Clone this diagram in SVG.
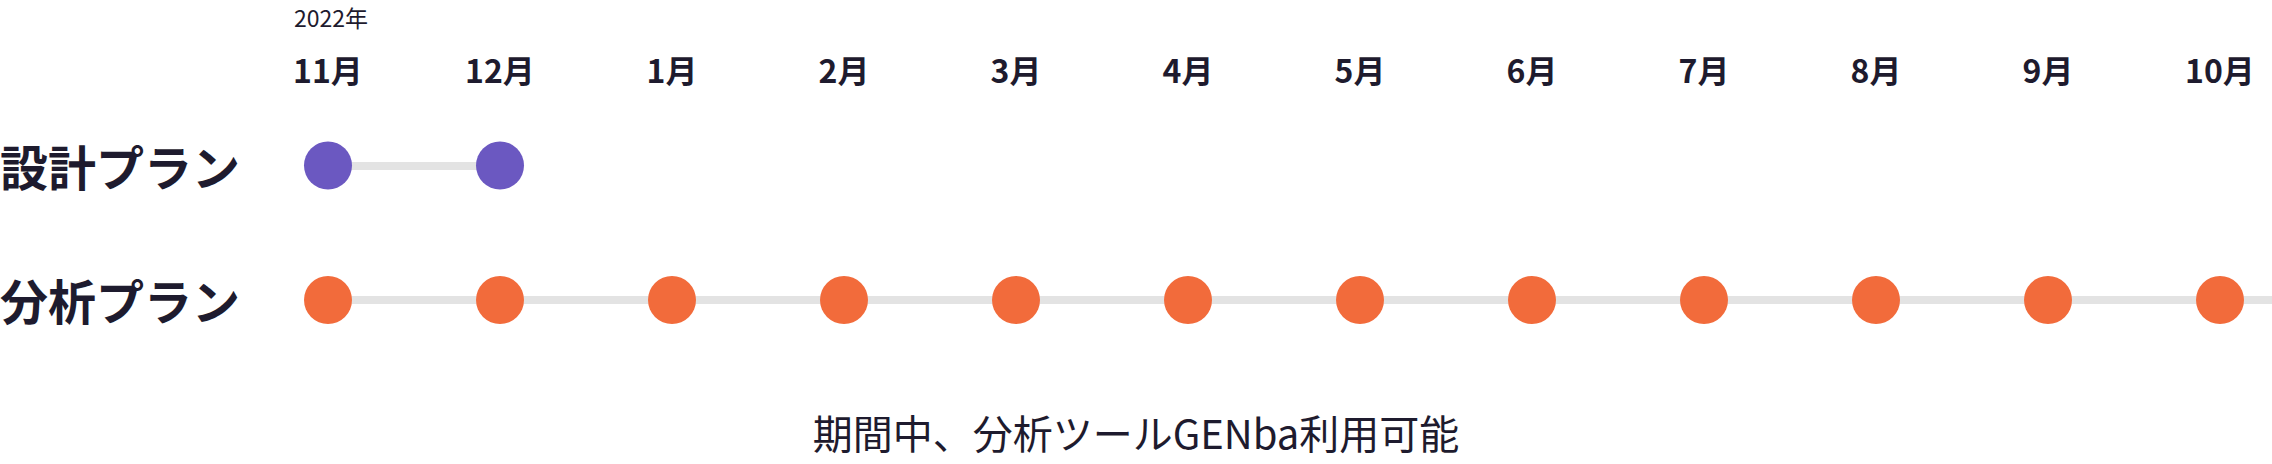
<svg xmlns="http://www.w3.org/2000/svg" width="2272" height="464" viewBox="0 0 2272 464">
<style>
text{font-family:"Noto Sans CJK JP","Noto Sans",sans-serif;fill:#1e1b2e}
.m{font-size:32px;font-weight:700;text-anchor:middle}
.row{font-size:48px;font-weight:700}
.yr{font-size:23px}
.note{font-size:40px;text-anchor:middle}
.track{stroke:#e3e3e3;stroke-width:8;fill:none}
.p{fill:#6b58c1}
.o{fill:#f26b3b}
</style>
<rect width="2272" height="464" fill="#fff"/>
<g id="header">
<text class="yr" x="294" y="27">2022年</text>
<text class="m" x="328" y="83">11月</text>
<text class="m" x="500" y="83">12月</text>
<text class="m" x="672" y="83">1月</text>
<text class="m" x="844" y="83">2月</text>
<text class="m" x="1016" y="83">3月</text>
<text class="m" x="1188" y="83">4月</text>
<text class="m" x="1360" y="83">5月</text>
<text class="m" x="1532" y="83">6月</text>
<text class="m" x="1704" y="83">7月</text>
<text class="m" x="1876" y="83">8月</text>
<text class="m" x="2048" y="83">9月</text>
<text class="m" x="2220" y="83">10月</text>
</g>
<g id="connectors">
<line class="track" x1="328" y1="166" x2="500" y2="166"/>
<line class="track" x1="328" y1="300" x2="2272" y2="300"/>
</g>
<g id="design-plan">
<text class="row" x="0" y="186">設計プラン</text>
<circle class="p" cx="328" cy="165.5" r="24"/>
<circle class="p" cx="500" cy="165.5" r="24"/>
</g>
<g id="analysis-plan">
<text class="row" x="0" y="320">分析プラン</text>
<circle class="o" cx="328" cy="300" r="24"/>
<circle class="o" cx="500" cy="300" r="24"/>
<circle class="o" cx="672" cy="300" r="24"/>
<circle class="o" cx="844" cy="300" r="24"/>
<circle class="o" cx="1016" cy="300" r="24"/>
<circle class="o" cx="1188" cy="300" r="24"/>
<circle class="o" cx="1360" cy="300" r="24"/>
<circle class="o" cx="1532" cy="300" r="24"/>
<circle class="o" cx="1704" cy="300" r="24"/>
<circle class="o" cx="1876" cy="300" r="24"/>
<circle class="o" cx="2048" cy="300" r="24"/>
<circle class="o" cx="2220" cy="300" r="24"/>
</g>
<g id="note">
<text class="note" x="1136" y="449">期間中、分析ツールGENba利用可能</text>
</g>
</svg>
